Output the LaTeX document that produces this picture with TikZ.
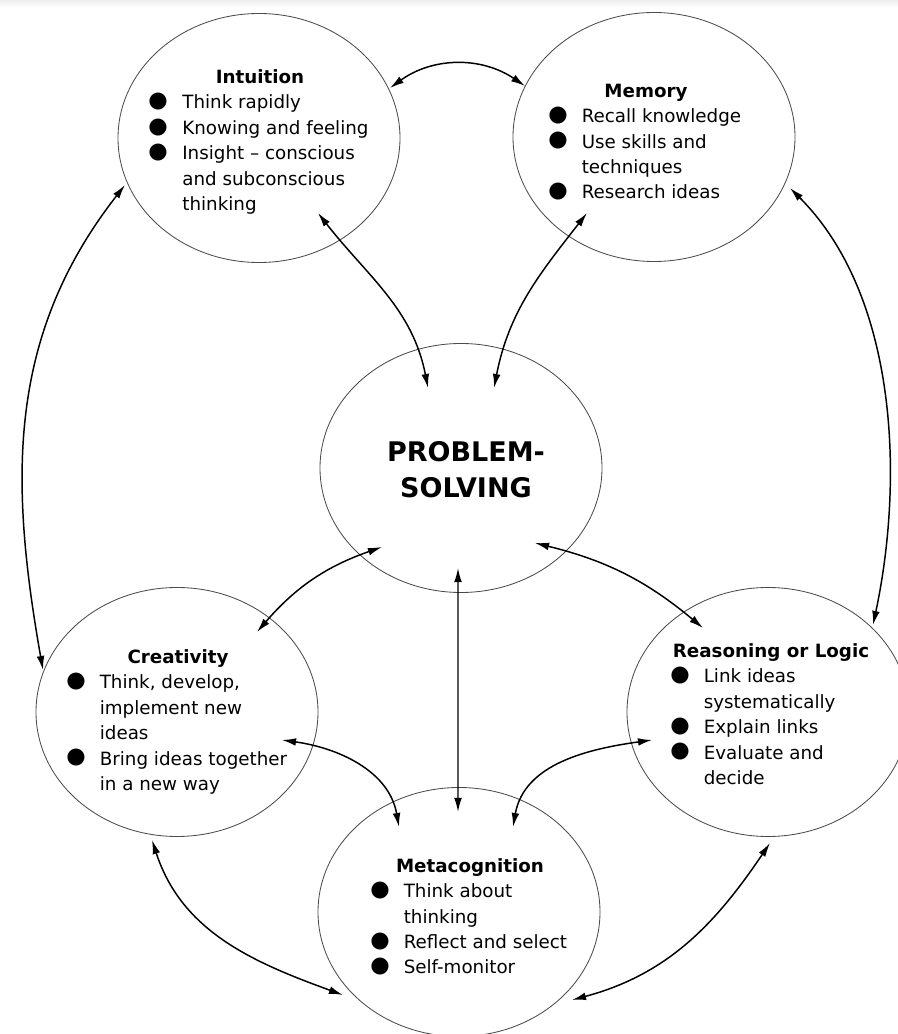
\documentclass[tikz,border=0pt]{standalone}
\usepackage{graphicx}
\usepackage{fontspec}
\setmainfont{DejaVu Sans}
\usetikzlibrary{shapes.geometric}
\usetikzlibrary{arrows.meta}

\newcommand{\bltpt}{\makebox[22pt][l]{\hspace{-2.6pt}\raisebox{-2.6pt}{\scalebox{2.6}{$\bullet$}}}}
\newcommand{\bltind}{\hspace*{22pt}}

\tikzset{
  bubble/.style={ellipse,draw=black!70,line width=0.6pt,minimum width=7.05cm,minimum height=6.225cm,inner sep=0pt},
  bubbletext/.style={inner sep=0pt,font=\fontsize{13}{18.1}\selectfont},
  link/.style={{Latex[length=10pt,width=5.5pt]}-{Latex[length=10pt,width=5.5pt]},line width=1.05pt}
}

\begin{document}
\begin{tikzpicture}
\useasboundingbox (0,0) rectangle (22.45,25.85);
\fill[gray!14] (0,25.8) rectangle (22.45,25.85);
\shade[top color=gray!10,bottom color=white] (0,25.65) rectangle (22.45,25.8);

% the six bubbles
\node[bubble] (intu) at (6.475,22.4) {};
\node[bubble] (mem) at (16.35,22.425) {};
\node[bubble] (ps) at (11.525,14.15) {};
\node[bubble] (crea) at (4.425,8.05) {};
\node[bubble] (reas) at (19.2,8.05) {};
\node[bubble] (meta) at (11.475,3.05) {};

\node[bubbletext] (intu-t) at (6.5,22.3) {\begin{tabular}{@{}l@{}}
\multicolumn{1}{@{}c@{}}{\bfseries Intuition}\\
\bltpt Think rapidly\\
\bltpt Knowing and feeling\\
\bltpt Insight – conscious\\
\bltind and subconscious\\
\bltind thinking
\end{tabular}};
\node[bubbletext] (mem-t) at (16.15,22.275) {\begin{tabular}{@{}l@{}}
\multicolumn{1}{@{}c@{}}{\bfseries Memory}\\
\bltpt Recall knowledge\\
\bltpt Use skills and\\
\bltind techniques\\
\bltpt Research ideas
\end{tabular}};
\node[font=\fontsize{19.2}{25.6}\selectfont\bfseries,align=center,inner sep=0pt] (ps-t) at (11.65,14.1) {PROBLEM-\\SOLVING};
\node[bubbletext] (crea-t) at (4.45,7.8) {\begin{tabular}{@{}l@{}}
\multicolumn{1}{@{}c@{}}{\bfseries Creativity}\\
\bltpt Think, develop,\\
\bltind implement new\\
\bltind ideas\\
\bltpt Bring ideas together\\
\bltind in a new way
\end{tabular}};
\node[bubbletext] (reas-t) at (19.275,7.95) {\begin{tabular}{@{}l@{}}
\multicolumn{1}{@{}c@{}}{\bfseries Reasoning or Logic}\\
\bltpt Link ideas\\
\bltind systematically\\
\bltpt Explain links\\
\bltpt Evaluate and\\
\bltind decide
\end{tabular}};
\node[bubbletext] (meta-t) at (11.75,2.9) {\begin{tabular}{@{}l@{}}
\multicolumn{1}{@{}c@{}}{\bfseries Metacognition}\\
\bltpt Think about\\
\bltind thinking\\
\bltpt Reflect and select\\
\bltpt Self-monitor
\end{tabular}};

% links
\draw[link] ([shift={(3.275,1.25)}]intu.center) to[bend left=35] ([shift={(-3.225,1.275)}]mem.center);
\draw[link] ([shift={(1.475,-1.875)}]intu.center) to[out=-52,in=101] ([shift={(-0.825,2.0)}]ps.center);
\draw[link] ([shift={(-1.675,-1.9)}]mem.center) to[out=-128,in=79] ([shift={(0.825,2.0)}]ps.center);
\draw[link] ([shift={(-3.35,-1.175)}]intu.center) to[out=232,in=100] ([shift={(-3.35,1.05)}]crea.center);
\draw[link] ([shift={(3.4,-1.275)}]mem.center) to[out=-45,in=78,looseness=0.87] ([shift={(2.625,2.175)}]reas.center);
\draw[link] ([shift={(-1.975,-1.975)}]ps.center) to[bend right=15] ([shift={(2.0,2.0)}]crea.center);
\draw[link] ([shift={(1.85,-1.875)}]ps.center) to[bend left=13] ([shift={(-1.625,2.1)}]reas.center);
\draw[link] ([shift={(-0.075,-2.5)}]ps.center) -- ([shift={(-0.025,2.5)}]meta.center);
\draw[link] ([shift={(2.625,-0.7)}]crea.center) to[out=-8,in=100] ([shift={(-1.5,2.125)}]meta.center);
\draw[link] ([shift={(-2.9,-0.7)}]reas.center) to[out=188,in=80] ([shift={(1.35,2.125)}]meta.center);
\draw[link] ([shift={(-0.625,-3.2)}]crea.center) to[out=-72,in=160] ([shift={(-2.9,-2.075)}]meta.center);
\draw[link] ([shift={(0.05,-3.275)}]reas.center) to[out=236,in=15] ([shift={(2.825,-2.2)}]meta.center);

\end{tikzpicture}
\end{document}
